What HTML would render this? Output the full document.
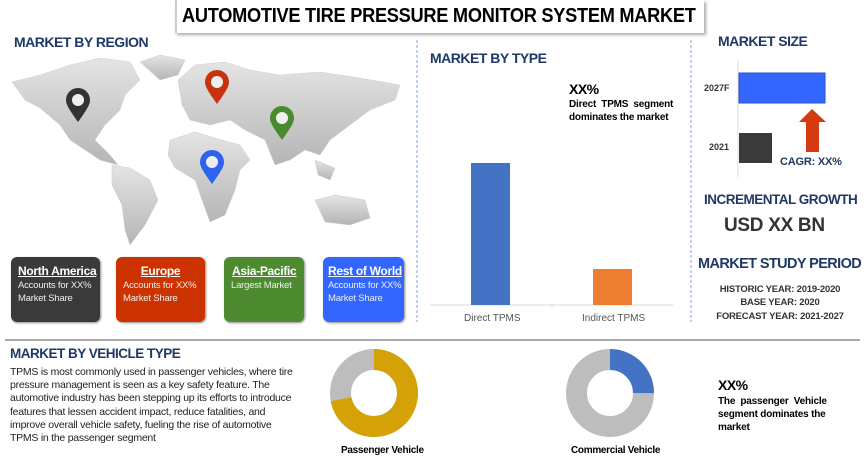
<!DOCTYPE html>
<html><head><meta charset="utf-8"><style>
body{margin:0;width:865px;height:470px;background:#fff;position:relative;overflow:hidden;font-family:"Liberation Sans",sans-serif}
.a{position:absolute;white-space:nowrap}
.h{color:#1f3864;font-weight:bold;font-size:14px;letter-spacing:-0.5px}
.box{position:absolute;top:257px;height:65px;border-radius:6px;color:#fff;box-shadow:1px 1px 2px #888;white-space:nowrap;overflow:hidden}
.box b{display:block;font-size:12px;letter-spacing:-0.3px;text-decoration:underline;margin:7px 0 2px 7px}
.box span{display:block;font-size:9.5px;letter-spacing:-0.2px;line-height:12.5px;margin-left:7px;color:#eee}
.sx{display:inline-block;transform-origin:0 0}
</style></head><body>
<div class="a" style="left:175px;top:0;width:527px;height:33px;background:#fff;box-shadow:2px 2px 3px #aaa;border-left:2px solid #ccc"></div>
<div class="a" style="left:182px;top:5px;font-weight:bold;font-size:20px;letter-spacing:-0.3px"><span class="sx" style="transform:scaleX(0.91)">AUTOMOTIVE TIRE PRESSURE MONITOR SYSTEM MARKET</span></div>
<div class="a h" style="left:14px;top:34px">MARKET BY REGION</div>
<svg class="a" style="left:0;top:0" width="865" height="470">
<defs><linearGradient id="g" x1="0" y1="0" x2="0" y2="1"><stop offset="0" stop-color="#e4e4e4"/><stop offset="1" stop-color="#b5b5b5"/></linearGradient></defs>
<g fill="url(#g)" stroke="#d0d0d0" stroke-width="0.5">
<path d="M12,82 L40,75 L70,65 L100,58 L130,62 L140,80 L125,95 L120,110 L105,125 L95,140 L110,155 L118,165 L100,160 L85,150 L70,140 L60,125 L40,108 L25,100 Z"/>
<path d="M140,62 L160,55 L185,60 L178,75 L160,80 Z"/>
<path d="M112,165 L130,168 L150,180 L158,200 L145,225 L130,245 L125,230 L122,205 L112,185 Z"/>
<path d="M178,80 L195,65 L225,62 L250,70 L280,75 L320,72 L360,78 L400,85 L395,100 L370,110 L350,125 L330,140 L320,155 L305,150 L290,160 L275,165 L265,140 L245,130 L230,120 L210,125 L190,120 L182,105 Z"/>
<path d="M170,140 L195,132 L215,138 L240,145 L250,160 L240,170 L235,190 L225,215 L210,222 L202,200 L195,180 L175,168 L168,155 Z"/>
<path d="M315,200 L335,195 L365,200 L370,218 L350,225 L325,222 Z"/>
<path d="M315,160 L335,168 L330,180 L318,175 Z"/>
</g>
<g>
<path d="M78,122 C68,108 66,104 66,100 A12,12 0 1 1 90,100 C90,104 88,108 78,122Z" fill="#333"/><circle cx="78" cy="100" r="6" fill="#eee"/>
<path d="M217,104 C207,90 205,86 205,82 A12,12 0 1 1 229,82 C229,86 227,90 217,104Z" fill="#c8330f"/><circle cx="217" cy="82" r="6" fill="#eee"/>
<path d="M282,140 C272,126 270,122 270,118 A12,12 0 1 1 294,118 C294,122 292,126 282,140Z" fill="#4a8a2e"/><circle cx="282" cy="118" r="6" fill="#eee"/>
<path d="M212,184 C202,170 200,166 200,162 A12,12 0 1 1 224,162 C224,166 222,170 212,184Z" fill="#2f63ee"/><circle cx="212" cy="162" r="6" fill="#eee"/>
</g>
<line x1="417" y1="40" x2="417" y2="322" stroke="#7fa1d8" stroke-dasharray="3,2"/>
<line x1="691" y1="40" x2="691" y2="322" stroke="#7fa1d8" stroke-dasharray="3,2"/>
<line x1="430" y1="305" x2="673" y2="305" stroke="#d9d9d9"/>
<line x1="552" y1="305" x2="552" y2="308" stroke="#d9d9d9"/>
<rect x="471" y="163" width="39" height="142" fill="#4472c4"/>
<rect x="593" y="269" width="39" height="36" fill="#ed7d31"/>
<line x1="738" y1="60" x2="738" y2="177" stroke="#ddd"/>
<rect x="739" y="73" width="86" height="30" fill="#3366ff" stroke="#2a52c4"/>
<rect x="739" y="133" width="33" height="30" fill="#3a3a3a"/>
<path d="M799,122 L812,109 L826,122 L819,122 L819,152 L806,152 L806,122Z" fill="#d63a10"/>
<line x1="5" y1="340" x2="860" y2="340" stroke="#aaa" stroke-width="2"/>
<g fill="none" stroke-width="21">
<circle cx="374" cy="393" r="33.5" stroke="#bdbdbd"/>
<circle cx="374" cy="393" r="33.5" stroke="#d4a106" stroke-dasharray="151.4 300" transform="rotate(-90 374 393)"/>
<circle cx="610" cy="393" r="33.5" stroke="#bdbdbd"/>
<circle cx="610" cy="393" r="33.5" stroke="#4472c4" stroke-dasharray="52.6 300" transform="rotate(-90 610 393)"/>
</g>
</svg>
<div class="box" style="left:11px;width:89px;background:#3a3a3a"><b>North America</b><span>Accounts for XX%</span><span>Market Share</span></div>
<div class="box" style="left:116px;width:89px;background:#cc3300;text-align:center"><b style="margin-left:0">Europe</b><span style="text-align:left">Accounts for XX%</span><span style="text-align:left">Market Share</span></div>
<div class="box" style="left:224px;width:80px;background:#4e8a30"><b style="margin-left:8px">Asia-Pacific</b><span>Largest Market</span></div>
<div class="box" style="left:323px;width:81px;background:#3366ff"><b style="margin-left:5px">Rest of World</b><span style="margin-left:5px">Accounts for XX%</span><span style="margin-left:5px">Market Share</span></div>
<div class="a h" style="left:430px;top:50px">MARKET BY TYPE</div>
<div class="a" style="left:569px;top:81px;font-weight:bold;font-size:14px;letter-spacing:-0.5px">XX%</div>
<div class="a" style="left:569px;top:98px;font-weight:bold;font-size:10px;line-height:13px;letter-spacing:-0.2px">Direct &nbsp;TPMS &nbsp;segment<br>dominates the market</div>
<div class="a" style="left:464px;top:313px;font-size:10px;color:#555">Direct TPMS</div>
<div class="a" style="left:582px;top:313px;font-size:10px;color:#555">Indirect TPMS</div>
<div class="a h" style="left:718px;top:33px">MARKET SIZE</div>
<div class="a" style="left:704px;top:83px;font-size:9px;font-weight:bold;color:#333">2027F</div>
<div class="a" style="left:709px;top:142px;font-size:9px;font-weight:bold;color:#333">2021</div>
<div class="a" style="left:780px;top:156px;font-size:11px;font-weight:bold;color:#1f3864;letter-spacing:-0.2px">CAGR: XX%</div>
<div class="a h" style="left:704px;top:192px;font-size:13.5px;letter-spacing:-0.5px">INCREMENTAL GROWTH</div>
<div class="a" style="left:724px;top:215px;font-size:19px;font-weight:bold;color:#333;letter-spacing:-0.3px">USD XX BN</div>
<div class="a h" style="left:698px;top:256px;font-size:14.5px;letter-spacing:-0.6px">MARKET STUDY PERIOD</div>
<div class="a" style="left:700px;top:283px;width:160px;text-align:center;font-size:9.5px;font-weight:bold;line-height:13.3px;color:#333;letter-spacing:-0.2px">HISTORIC YEAR: 2019-2020<br>BASE YEAR: 2020<br>FORECAST YEAR: 2021-2027</div>
<div class="a h" style="left:10px;top:346px;font-size:13.5px">MARKET BY VEHICLE TYPE</div>
<div class="a" style="left:10px;top:366px;font-size:10.5px;line-height:13.2px;color:#222;letter-spacing:-0.25px">TPMS is most commonly used in passenger vehicles, where tire<br>pressure management is seen as a key safety feature. The<br>automotive industry has been stepping up its efforts to introduce<br>features that lessen accident impact, reduce fatalities, and<br>improve overall vehicle safety, fueling the rise of automotive<br>TPMS in the passenger segment</div>
<div class="a" style="left:341px;top:445px;font-size:10px;font-weight:bold;letter-spacing:-0.3px">Passenger Vehicle</div>
<div class="a" style="left:571px;top:445px;font-size:10px;font-weight:bold;letter-spacing:-0.3px">Commercial Vehicle</div>
<div class="a" style="left:718px;top:377px;font-size:14px;font-weight:bold;letter-spacing:-0.5px">XX%</div>
<div class="a" style="left:718px;top:395px;font-size:10px;font-weight:bold;line-height:13px;letter-spacing:-0.2px">The &nbsp;passenger &nbsp;Vehicle<br>segment dominates the<br>market</div>
</body></html>
